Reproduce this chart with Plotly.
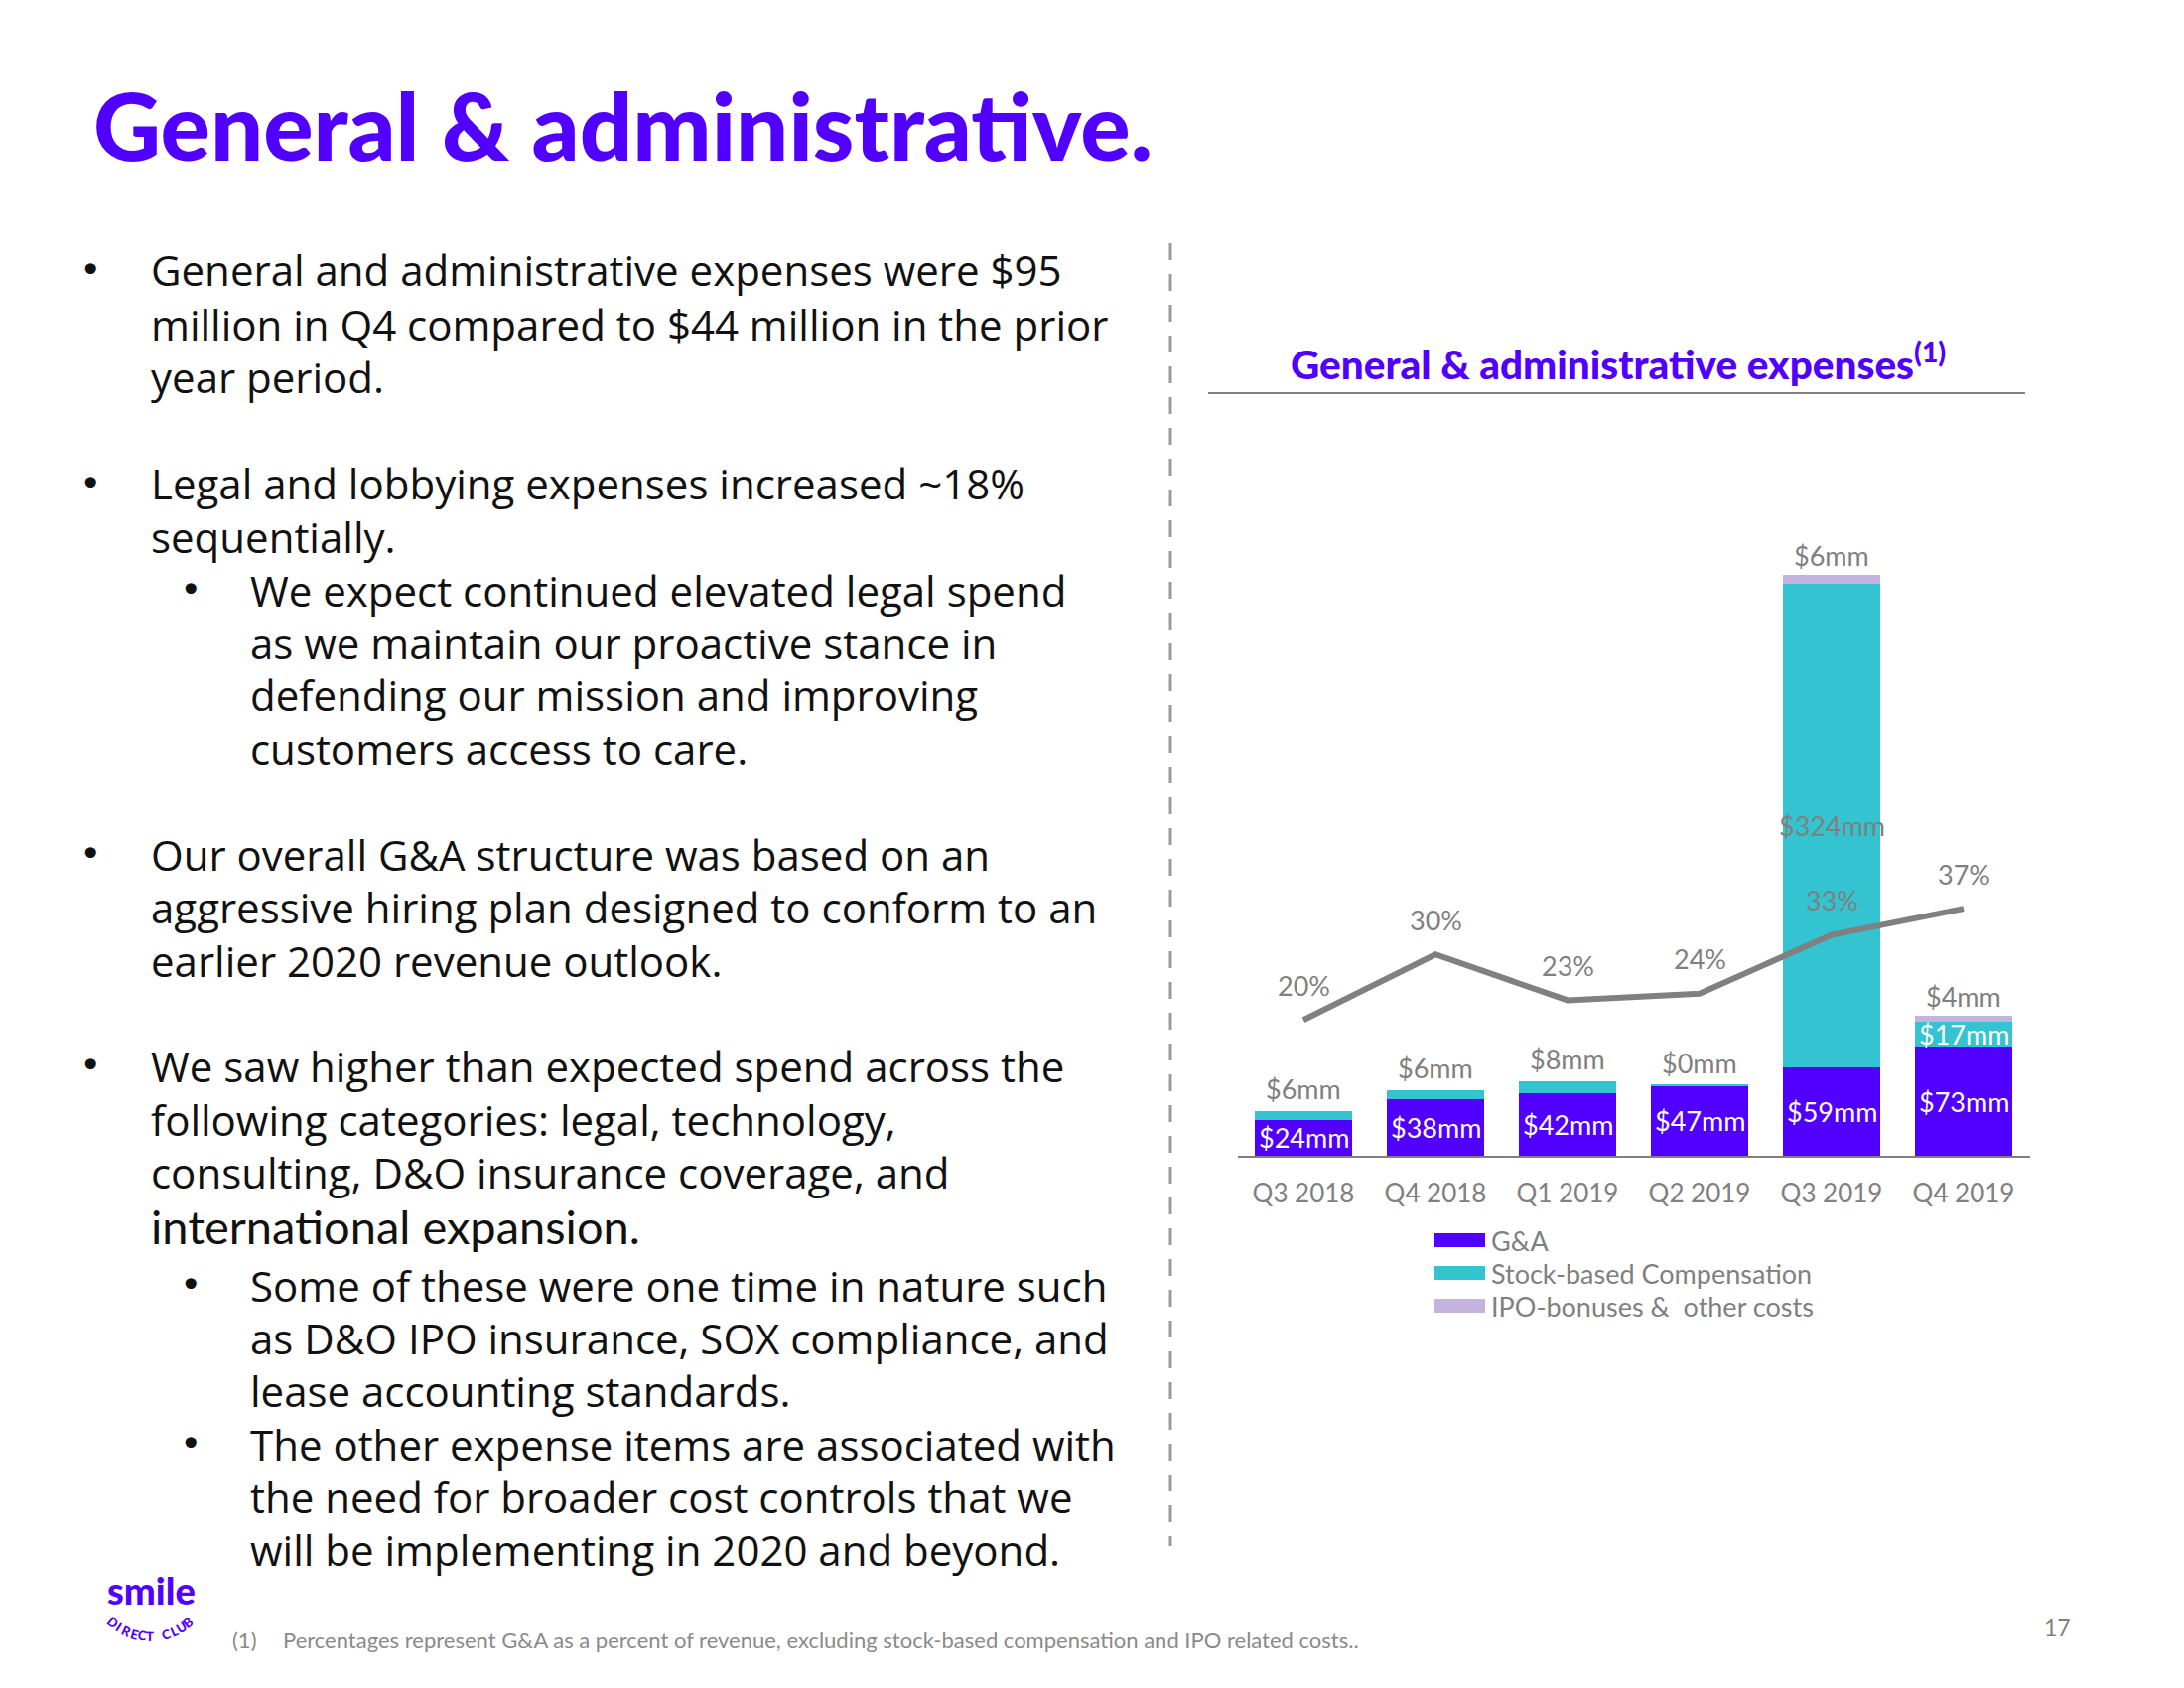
import math
import plotly.graph_objects as go

# ---------------- data ----------------
quarters = ["Q3 2018", "Q4 2018", "Q1 2019", "Q2 2019", "Q3 2019", "Q4 2019"]
ga_mm = [24, 38, 42, 47, 59, 73]
sbc_mm = [6, 6, 8, 0.4, 324, 17]
ipo_mm = [0, 0, 0, 0, 6, 4]
ga_pct_revenue = [20, 30, 23, 24, 33, 37]
series_names = ["G&A", "Stock-based Compensation", "IPO-bonuses &  other costs"]

# ---------------- style ----------------
W, H = 2200, 1700
OFF = 8  # page body margin compensation
PURPLE = "#5100FF"
CYAN = "#33C3D1"
LAVENDER = "#C4B3DE"
GRAY = "#808080"
TEXT = "#111111"
series_colors = [PURPLE, CYAN, LAVENDER]
sbc_label_inside = [False, False, False, False, True, True]
sbc_label_color = [GRAY, GRAY, GRAY, GRAY, GRAY, "white"]
FONT = "Lato"
BODY_FONT = "Open Sans"


def px(x):
    return (x - OFF) / W


def py(y):
    return 1 - (y - OFF) / H


fig = go.Figure()

for vals, name, col in zip([ga_mm, sbc_mm, ipo_mm], series_names, series_colors):
    fig.add_trace(go.Bar(x=quarters, y=vals, name=name, marker=dict(color=col, line=dict(width=0)),
                         width=0.74, showlegend=False, hoverinfo="skip"))

fig.add_trace(go.Scatter(x=quarters, y=ga_pct_revenue, yaxis="y2", mode="lines",
                         line=dict(color=GRAY, width=6), showlegend=False, hoverinfo="skip"))

ann = []
LBL = 27
# value labels
for q, g, s, i, p, inside, scol in zip(quarters, ga_mm, sbc_mm, ipo_mm, ga_pct_revenue,
                                       sbc_label_inside, sbc_label_color):
    ann.append(dict(x=q, y=g / 2, xref="x", yref="y", text=f"${g:.0f}mm", showarrow=False,
                    font=dict(family=FONT, size=LBL, color="white"), yanchor="middle"))
    if inside:
        ann.append(dict(x=q, y=g + s / 2, xref="x", yref="y", text=f"${s:.0f}mm", showarrow=False,
                        font=dict(family=FONT, size=LBL, color=scol), yanchor="middle"))
    else:
        ann.append(dict(x=q, y=g + s, xref="x", yref="y", text=f"${s:.0f}mm", showarrow=False,
                        font=dict(family=FONT, size=LBL, color=scol), yanchor="bottom", yshift=4))
    if i > 0:
        ann.append(dict(x=q, y=g + s + i, xref="x", yref="y", text=f"${i:.0f}mm", showarrow=False,
                        font=dict(family=FONT, size=LBL, color=GRAY), yanchor="bottom", yshift=1))
    ann.append(dict(x=q, y=p, xref="x", yref="y2", text=f"{p}%", showarrow=False,
                    font=dict(family=FONT, size=LBL, color=GRAY), yanchor="middle", yshift=35))

# manual legend
shapes = []
leg_y = [1249, 1282, 1315]
for name, col, y in zip(series_names, series_colors, leg_y):
    shapes.append(dict(type="rect", xref="paper", yref="paper", x0=px(1445), x1=px(1496),
                       y0=py(y + 7), y1=py(y - 7), fillcolor=col, line=dict(width=0)))
    ann.append(dict(x=px(1500), y=py(y), xref="paper", yref="paper", text=name, showarrow=False,
                    xanchor="left", yanchor="middle", font=dict(family=FONT, size=27, color=GRAY)))

# chart title + rule
ann.append(dict(x=px(1630), y=py(364), xref="paper", yref="paper",
                text="General & administrative expenses<sup>(1)</sup>", showarrow=False,
                xanchor="center", yanchor="middle",
                font=dict(family=FONT, size=40.5, color=PURPLE, weight=900)))
shapes.append(dict(type="line", xref="paper", yref="paper", x0=px(1217), x1=px(2040),
                   y0=py(396), y1=py(396), line=dict(color=GRAY, width=2)))

# dashed divider
shapes.append(dict(type="line", xref="paper", yref="paper", x0=px(1179), x1=px(1179),
                   y0=py(245), y1=py(1557), line=dict(color="#9a9a9a", width=3, dash="17px,14px")))

# slide title
ann.append(dict(x=px(92), y=py(125), xref="paper", yref="paper", text="General & administrative.",
                showarrow=False, xanchor="left", yanchor="middle",
                font=dict(family=FONT, size=94, color=PURPLE, weight=900)))

# bullets
body = [
    (0, "General and administrative expenses were $95", 272, True),
    (0, "million in Q4 compared to $44 million in the prior", 327, False),
    (0, "year period.", 379, False),
    (0, "Legal and lobbying expenses increased ~18%", 487, True),
    (0, "sequentially.", 540, False),
    (1, "We expect continued elevated legal spend", 594, True),
    (1, "as we maintain our proactive stance in", 647, False),
    (1, "defending our mission and improving", 700, False),
    (1, "customers access to care.", 753, False),
    (0, "Our overall G&A structure was based on an", 860, True),
    (0, "aggressive hiring plan designed to conform to an", 913, False),
    (0, "earlier 2020 revenue outlook.", 967, False),
    (0, "We saw higher than expected spend across the", 1073, True),
    (0, "following categories: legal, technology,", 1127, False),
    (0, "consulting, D&O insurance coverage, and", 1180, False),
    (0, "international expansion.", 1235, False),
    (1, "Some of these were one time in nature such", 1294, True),
    (1, "as D&O IPO insurance, SOX compliance, and", 1347, False),
    (1, "lease accounting standards.", 1400, False),
    (1, "The other expense items are associated with", 1454, True),
    (1, "the need for broader cost controls that we", 1507, False),
    (1, "will be implementing in 2020 and beyond.", 1560, False),
]
for lvl, line, y, bullet in body:
    tx = 150 if lvl == 0 else 250
    bx = 91 if lvl == 0 else 192
    special = line.startswith("international")
    fam = "Lato" if special else BODY_FONT
    size = 47 if special else 42
    ann.append(dict(x=px(tx), y=py(y), xref="paper", yref="paper", text=line, showarrow=False,
                    xanchor="left", yanchor="middle", font=dict(family=fam, size=size, color=TEXT)))
    if bullet:
        ann.append(dict(x=px(bx), y=py(y), xref="paper", yref="paper", text="•", showarrow=False,
                        xanchor="center", yanchor="middle", font=dict(family="DejaVu Sans", size=38, color=TEXT)))

# footnote + page number
ann.append(dict(x=px(232), y=py(1651), xref="paper", yref="paper", text="(1)", showarrow=False,
                xanchor="left", yanchor="middle", font=dict(family=FONT, size=22, color="#8a8a8a")))
ann.append(dict(x=px(283), y=py(1651), xref="paper", yref="paper",
                text="Percentages represent G&A as a percent of revenue, excluding stock-based compensation and IPO related costs..",
                showarrow=False, xanchor="left", yanchor="middle",
                font=dict(family=FONT, size=22, color="#8a8a8a")))
ann.append(dict(x=px(2072), y=py(1639), xref="paper", yref="paper", text="17", showarrow=False,
                xanchor="center", yanchor="middle", font=dict(family=FONT, size=23, color=GRAY)))

# logo
ann.append(dict(x=px(152), y=py(1601), xref="paper", yref="paper", text="smile", showarrow=False,
                xanchor="center", yanchor="middle", font=dict(family=FONT, size=38, color=PURPLE, weight=900)))
logo_sub = "DIRECT CLUB"
cx, cy, r = 152, 1590, 58
n = len(logo_sub)
for k, ch in enumerate(logo_sub):
    if ch == " ":
        continue
    phi = -41 + k * 81 / (n - 1)
    a = math.radians(phi)
    ann.append(dict(x=px(cx + r * math.sin(a)), y=py(cy + r * math.cos(a)), xref="paper", yref="paper",
                    text=ch, showarrow=False, textangle=-phi, xanchor="center", yanchor="middle",
                    font=dict(family=FONT, size=13, color=PURPLE, weight=900)))

fig.update_layout(
    width=W, height=H, margin=dict(l=0, r=0, t=0, b=0),
    paper_bgcolor="white", plot_bgcolor="white",
    barmode="stack", bargap=0.26, showlegend=False,
    xaxis=dict(domain=[(1246.5 - OFF) / W, (2044.5 - OFF) / W], range=[-0.5, 5.5], showline=True,
               linecolor=GRAY, linewidth=2, ticks="", showgrid=False, zeroline=False,
               ticklabelstandoff=14, tickfont=dict(family=FONT, size=26, color=GRAY)),
    yaxis=dict(domain=[(H - (1164 - OFF)) / H, (H - (500 - OFF)) / H], range=[0, 441.5], visible=False,
               showgrid=False, zeroline=False),
    yaxis2=dict(domain=[(H - (1164 - OFF)) / H, (H - (500 - OFF)) / H], range=[-0.76, 100.0],
                overlaying="y", visible=False, showgrid=False, zeroline=False),
    annotations=ann, shapes=shapes,
)

fig.write_html("out.html")
